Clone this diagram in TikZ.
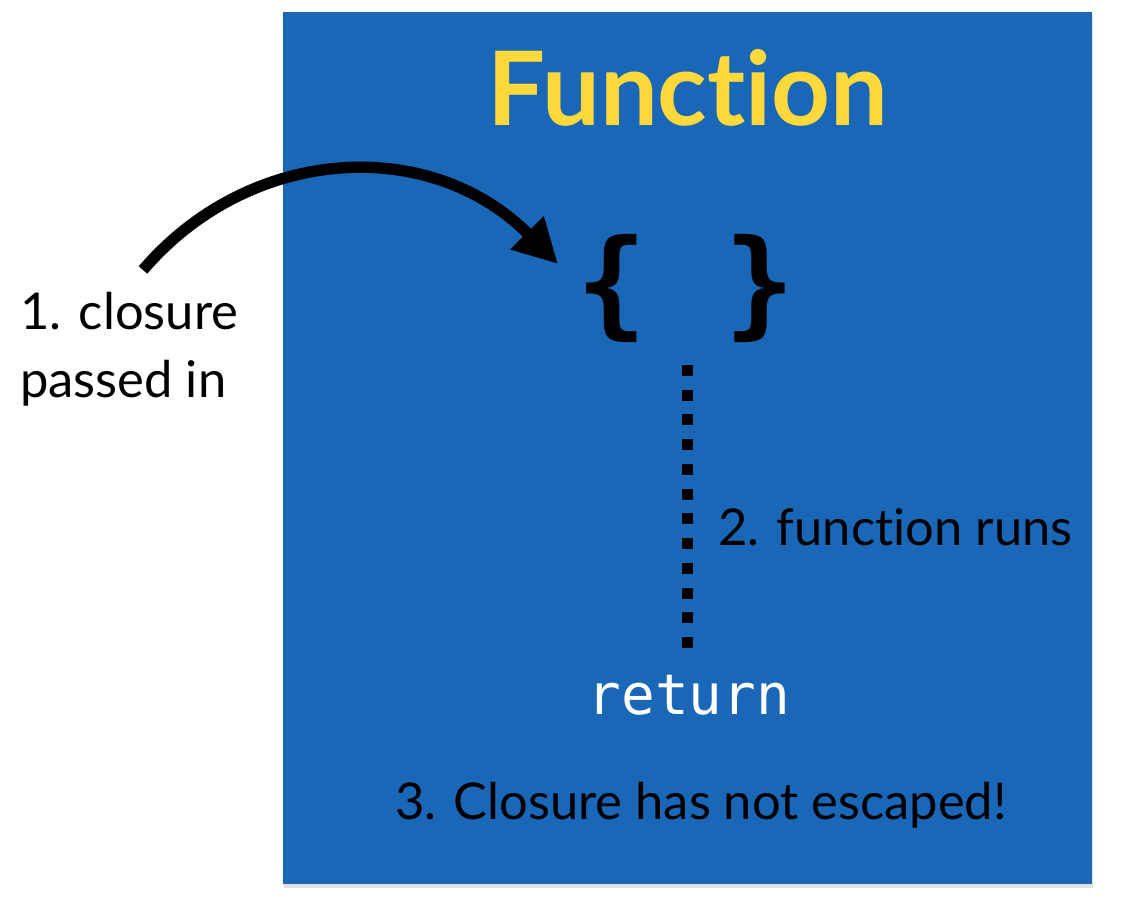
\documentclass[tikz,border=0pt]{standalone}
\usepackage{fontspec}
\setmainfont[Ligatures=NoCommon]{Lato}
\setmonofont{DejaVu Sans Mono}
\usetikzlibrary{arrows.meta,positioning}
\definecolor{fnblue}{HTML}{1A67B8}
\definecolor{fnyellow}{HTML}{FFD93B}

\begin{document}
\begin{tikzpicture}[x=0.75pt,y=-0.75pt,>=Triangle,
  label/.style={inner sep=0pt,font=\fontsize{38}{51}\selectfont,text=black},
  title/.style={inner sep=0pt,font=\bfseries\fontsize{77}{80}\selectfont,text=fnyellow},
  code/.style={inner sep=0pt,font=\ttfamily\fontsize{42}{46}\selectfont,text=white}]
\useasboundingbox (0,0) rectangle (1140,912);
\fill[black!12] (284,16) rectangle (1093,888);
\fill[fnblue] (283,12) rectangle (1092,884);

\node[title] (head) at (688,88) {Function};
\node[inner sep=0pt,font=\ttfamily\bfseries\fontsize{88}{92}\selectfont] (body) at (686,288) {\{\hspace{58pt}\}};
\node[label,align=left,anchor=west] (passed) at (20,349) {1. closure\\passed in};
\node[label,anchor=west] (runs) at (718,527) {2. function runs};
\node[code] (ret) at (689,695) {return};
\node[label] (escape) at (701,805) {3. Closure has not escaped!};

\coordinate (start) at (143,270);
\coordinate (tip) at (558,264);
\coordinate (dtop) at (687,365);
\coordinate (dbot) at (687,652);
\draw[->,line width=8.5pt,arrows={-Triangle[length=33pt,width=33pt]}] (start) .. controls (250,145) and (430,135) .. (tip);
\draw[line width=8.25pt,dash pattern=on 8.25pt off 10.3pt] (dtop) -- (dbot);
\end{tikzpicture}
\end{document}
